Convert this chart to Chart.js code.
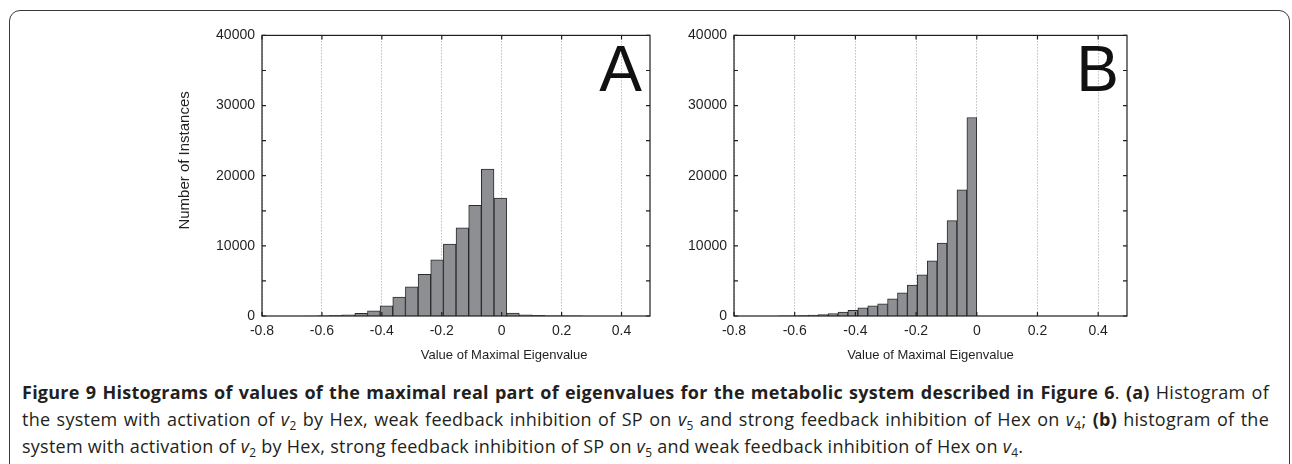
<!DOCTYPE html>
<html lang="en">
<head>
<meta charset="UTF-8">
<title>Figure 9 - Histograms of maximal eigenvalues</title>
<script src="https://cdn.jsdelivr.net/npm/chart.js"></script>
<style>
    body {
        margin: 0;
        width: 1292px;
        height: 464px;
        overflow: hidden;
        position: relative;
        background: #fff;
        color: #231f20;
        font-family: 'Open Sans', 'Noto Sans', sans-serif;
    }
    .frame {
        position: absolute;
        left: 9px;
        top: 10px;
        width: 1281px;
        height: 500px;
        border: 1.5px solid #3a3a3a;
        border-radius: 11px;
        box-sizing: border-box;
    }
    .panel { position: absolute; top: 20px; height: 345px; }
    #panelA { left: 150px; width: 512px; }
    #panelB { left: 670px; width: 469px; }
    .caption {
        position: absolute;
        left: 22px;
        top: 379px;
        width: 1247px;
        margin: 0;
        font-size: 18px;
        line-height: 27px;
        letter-spacing: 0.25px;
        text-align: justify;
    }
    .caption sub { font-size: 0.66em; line-height: 0; vertical-align: -0.3em; }
</style>
</head>
<body>
<div class="frame"></div>
<div class="panel" id="panelA"><canvas id="histA"></canvas></div>
<div class="panel" id="panelB"><canvas id="histB"></canvas></div>
<p class="caption"><b>Figure 9 Histograms of values of the maximal real part of eigenvalues for the metabolic system described in Figure 6</b>. <b>(a)</b> Histogram of the system with activation of <i>v</i><sub>2</sub> by Hex, weak feedback inhibition of SP on <i>v</i><sub>5</sub> and strong feedback inhibition of Hex on <i>v</i><sub>4</sub>; <b>(b)</b> histogram of the system with activation of <i>v</i><sub>2</sub> by Hex, strong feedback inhibition of SP on <i>v</i><sub>5</sub> and weak feedback inhibition of Hex on <i>v</i><sub>4</sub>.</p>

<script>
    // bin centres and counts
    const binsA = [-0.6379, -0.5957, -0.5535, -0.5113, -0.4691, -0.4268, -0.3846, -0.3424, -0.3002, -0.2579, -0.2157,
                   -0.1735, -0.1313, -0.0890, -0.0468, -0.0046, 0.0376, 0.0798, 0.1220, 0.1642, 0.2065, 0.2487];
    const countsA = [5, 20, 90, 180, 370, 750, 1460, 2680, 4160, 5950, 8000,
                     10270, 12570, 15770, 20950, 16800, 400, 150, 80, 40, 20, 10];

    const binsB = [-0.6370, -0.6043, -0.5717, -0.5390, -0.5064, -0.4737, -0.4410, -0.4084, -0.3757, -0.3430,
                   -0.3104, -0.2777, -0.2450, -0.2124, -0.1797, -0.1470, -0.1144, -0.0817, -0.0490, -0.0163];
    const countsB = [10, 25, 60, 120, 210, 350, 560, 820, 1150, 1450,
                     1740, 2450, 3290, 4420, 5880, 7860, 10400, 13600, 18000, 28300];

    const xTicks = { min: -0.8, max: 0.495, step: 0.2 };
    const yTicks = { min: 0, max: 40000, step: 5000, labelEvery: 10000 };
    const xTitle = 'Value of Maximal Eigenvalue';
    const yTitle = 'Number of Instances';

    Chart.defaults.font.family = "'Liberation Sans', Arial, sans-serif";
    Chart.defaults.font.size = 14;
    Chart.defaults.color = '#231f20';

    // box round the axes, inward ticks, panel letter and axis titles
    const framePlugin = {
        id: 'frame',
        afterDatasetsDraw(chart, args, opts) {
            const { ctx, chartArea: a, scales: { x, y } } = chart;
            ctx.save();
            ctx.strokeStyle = '#1e1e1e';
            ctx.lineWidth = 1.2;
            ctx.beginPath();
            x.ticks.forEach(t => {
                const px = x.getPixelForValue(t.value);
                ctx.moveTo(px, a.bottom); ctx.lineTo(px, a.bottom - 4);
                ctx.moveTo(px, a.top); ctx.lineTo(px, a.top + 4);
            });
            y.ticks.forEach(t => {
                const py = y.getPixelForValue(t.value);
                ctx.moveTo(a.left, py); ctx.lineTo(a.left + 4, py);
                ctx.moveTo(a.right, py); ctx.lineTo(a.right - 4, py);
            });
            ctx.stroke();
            ctx.strokeRect(a.left, a.top, a.width, a.height);

            ctx.fillStyle = '#111';
            ctx.font = "64px 'Liberation Sans', Arial, sans-serif";
            ctx.textAlign = 'right';
            ctx.textBaseline = 'alphabetic';
            ctx.fillText(opts.letter, a.right - 8, a.top + 56);

            ctx.fillStyle = '#231f20';
            ctx.textAlign = 'center';
            ctx.textBaseline = 'middle';
            ctx.font = "13px 'Liberation Sans', Arial, sans-serif";
            ctx.fillText(xTitle, a.left + opts.xTitlePos * a.width, a.bottom + 39);

            if (opts.showY) {
                ctx.font = "15px 'Liberation Sans', Arial, sans-serif";
                ctx.translate(a.left - 77, a.top + 125);
                ctx.rotate(-Math.PI / 2);
                ctx.fillText(yTitle, 0, 0);
            }
            ctx.restore();
        }
    };

    function makeHist(id, bins, counts, letter, yWidth, xTitlePos, showY) {
        new Chart(document.getElementById(id), {
            type: 'bar',
            data: {
                datasets: [{
                    data: bins.map((v, i) => ({ x: v, y: counts[i] })),
                    backgroundColor: '#8e8f93',
                    borderColor: '#2a2a2a',
                    borderWidth: 1,
                    barPercentage: 1,
                    categoryPercentage: 1,
                    grouped: false
                }]
            },
            options: {
                responsive: true,
                maintainAspectRatio: false,
                animation: false,
                layout: { padding: { top: 12, right: 12, left: 0, bottom: 0 } },
                plugins: {
                    legend: { display: false },
                    tooltip: { enabled: false },
                    frame: { letter: letter, xTitlePos: xTitlePos, showY: showY }
                },
                scales: {
                    x: {
                        type: 'linear',
                        min: xTicks.min,
                        max: xTicks.max,
                        offset: false,
                        ticks: { stepSize: xTicks.step, includeBounds: false, padding: 7, maxRotation: 0, autoSkip: false },
                        grid: { offset: false, drawTicks: false, color: '#9c9c9c', lineWidth: 1 },
                        border: { display: false, dash: [1, 2] },
                        afterFit(s) { s.height = 49; }
                    },
                    y: {
                        min: yTicks.min,
                        max: yTicks.max,
                        ticks: {
                            stepSize: yTicks.step,
                            padding: 7,
                            callback: v => (v % yTicks.labelEvery === 0 ? String(v) : '')
                        },
                        grid: { display: false, drawTicks: false },
                        border: { display: false },
                        afterFit(s) { s.width = yWidth; }
                    }
                }
            },
            plugins: [framePlugin]
        });
    }

    makeHist('histA', binsA, countsA, 'A', 112, 0.624, true);
    makeHist('histB', binsB, countsB, 'B', 64, 0.5, false);
</script>
</body>
</html>
